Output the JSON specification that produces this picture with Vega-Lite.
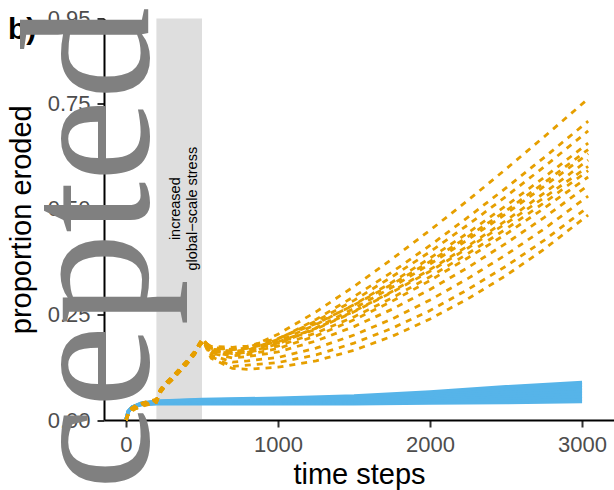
{
  "$schema": "https://vega.github.io/schema/vega-lite/v6.json",
  "width": 510,
  "height": 401.5,
  "autosize": {"type": "none"},
  "padding": {"left": 104, "top": 18.5, "right": 0, "bottom": 70},
  "background": "white",
  "config": {
    "view": {"stroke": null},
    "font": "Liberation Sans",
    "axis": {"zindex": 0, "grid": false, "domainColor": "black", "domainWidth": 2, "tickColor": "#333333", "tickWidth": 2, "tickSize": 7, "labelFontSize": 22, "labelColor": "#4d4d4d", "labelPadding": 7, "labelFont": "Liberation Sans", "labelFlush": false, "labelOverlap": false, "titleFont": "Liberation Sans", "titleFontSize": 29, "titleFontWeight": "normal", "titleColor": "black", "titleBaseline": "alphabetic"},
    "axisX": {"titleX": 255, "titleY": 63, "titleAlign": "center"},
    "axisY": {"titleAngle": 270, "titleAlign": "center", "titleX": -74, "titleY": 200.75}
  },
  "datasets": {
    "blue": [
      {"run": "b0", "t": 0, "v": 0}, {"run": "b0", "t": 15, "v": 0.02}, {"run": "b0", "t": 40, "v": 0.03}, {"run": "b0", "t": 100, "v": 0.0365}, {"run": "b0", "t": 200, "v": 0.0385}, {"run": "b0", "t": 500, "v": 0.0385}, {"run": "b0", "t": 1000, "v": 0.0385}, {"run": "b0", "t": 1500, "v": 0.0385}, {"run": "b0", "t": 2000, "v": 0.0405}, {"run": "b0", "t": 2500, "v": 0.0415}, {"run": "b0", "t": 3000, "v": 0.0435},
      {"run": "b1", "t": 0, "v": 0}, {"run": "b1", "t": 15, "v": 0.02}, {"run": "b1", "t": 40, "v": 0.03}, {"run": "b1", "t": 100, "v": 0.0369}, {"run": "b1", "t": 200, "v": 0.0394}, {"run": "b1", "t": 500, "v": 0.0399}, {"run": "b1", "t": 1000, "v": 0.0404}, {"run": "b1", "t": 1500, "v": 0.0411}, {"run": "b1", "t": 2000, "v": 0.0442}, {"run": "b1", "t": 2500, "v": 0.0468}, {"run": "b1", "t": 3000, "v": 0.0499},
      {"run": "b2", "t": 0, "v": 0}, {"run": "b2", "t": 15, "v": 0.02}, {"run": "b2", "t": 40, "v": 0.03}, {"run": "b2", "t": 100, "v": 0.0374}, {"run": "b2", "t": 200, "v": 0.0402}, {"run": "b2", "t": 500, "v": 0.0414}, {"run": "b2", "t": 1000, "v": 0.0422}, {"run": "b2", "t": 1500, "v": 0.0436}, {"run": "b2", "t": 2000, "v": 0.0479}, {"run": "b2", "t": 2500, "v": 0.0521}, {"run": "b2", "t": 3000, "v": 0.0564},
      {"run": "b3", "t": 0, "v": 0}, {"run": "b3", "t": 15, "v": 0.02}, {"run": "b3", "t": 40, "v": 0.03}, {"run": "b3", "t": 100, "v": 0.0378}, {"run": "b3", "t": 200, "v": 0.0411}, {"run": "b3", "t": 500, "v": 0.0428}, {"run": "b3", "t": 1000, "v": 0.0441}, {"run": "b3", "t": 1500, "v": 0.0462}, {"run": "b3", "t": 2000, "v": 0.0517}, {"run": "b3", "t": 2500, "v": 0.0574}, {"run": "b3", "t": 3000, "v": 0.0628},
      {"run": "b4", "t": 0, "v": 0}, {"run": "b4", "t": 15, "v": 0.02}, {"run": "b4", "t": 40, "v": 0.03}, {"run": "b4", "t": 100, "v": 0.0382}, {"run": "b4", "t": 200, "v": 0.0419}, {"run": "b4", "t": 500, "v": 0.0442}, {"run": "b4", "t": 1000, "v": 0.0459}, {"run": "b4", "t": 1500, "v": 0.0488}, {"run": "b4", "t": 2000, "v": 0.0554}, {"run": "b4", "t": 2500, "v": 0.0626}, {"run": "b4", "t": 3000, "v": 0.0692},
      {"run": "b5", "t": 0, "v": 0}, {"run": "b5", "t": 15, "v": 0.02}, {"run": "b5", "t": 40, "v": 0.03}, {"run": "b5", "t": 100, "v": 0.0386}, {"run": "b5", "t": 200, "v": 0.0428}, {"run": "b5", "t": 500, "v": 0.0456}, {"run": "b5", "t": 1000, "v": 0.0478}, {"run": "b5", "t": 1500, "v": 0.0514}, {"run": "b5", "t": 2000, "v": 0.0591}, {"run": "b5", "t": 2500, "v": 0.0679}, {"run": "b5", "t": 3000, "v": 0.0756},
      {"run": "b6", "t": 0, "v": 0}, {"run": "b6", "t": 15, "v": 0.02}, {"run": "b6", "t": 40, "v": 0.03}, {"run": "b6", "t": 100, "v": 0.0391}, {"run": "b6", "t": 200, "v": 0.0436}, {"run": "b6", "t": 500, "v": 0.0471}, {"run": "b6", "t": 1000, "v": 0.0496}, {"run": "b6", "t": 1500, "v": 0.0539}, {"run": "b6", "t": 2000, "v": 0.0628}, {"run": "b6", "t": 2500, "v": 0.0732}, {"run": "b6", "t": 3000, "v": 0.0821},
      {"run": "b7", "t": 0, "v": 0}, {"run": "b7", "t": 15, "v": 0.02}, {"run": "b7", "t": 40, "v": 0.03}, {"run": "b7", "t": 100, "v": 0.0395}, {"run": "b7", "t": 200, "v": 0.0445}, {"run": "b7", "t": 500, "v": 0.0485}, {"run": "b7", "t": 1000, "v": 0.0515}, {"run": "b7", "t": 1500, "v": 0.0565}, {"run": "b7", "t": 2000, "v": 0.0665}, {"run": "b7", "t": 2500, "v": 0.0785}, {"run": "b7", "t": 3000, "v": 0.0885}
    ],
    "orange": [
      {"run": "o1", "t": 0, "v": 0}, {"run": "o1", "t": 20, "v": 0.02}, {"run": "o1", "t": 60, "v": 0.03}, {"run": "o1", "t": 120, "v": 0.038}, {"run": "o1", "t": 200, "v": 0.045}, {"run": "o1", "t": 225, "v": 0.068}, {"run": "o1", "t": 250, "v": 0.08}, {"run": "o1", "t": 310, "v": 0.101}, {"run": "o1", "t": 400, "v": 0.136}, {"run": "o1", "t": 450, "v": 0.158}, {"run": "o1", "t": 490, "v": 0.182}, {"run": "o1", "t": 507, "v": 0.188}, {"run": "o1", "t": 560, "v": 0.172}, {"run": "o1", "t": 700, "v": 0.167}, {"run": "o1", "t": 800, "v": 0.17}, {"run": "o1", "t": 1000, "v": 0.203}, {"run": "o1", "t": 1250, "v": 0.256}, {"run": "o1", "t": 1500, "v": 0.316}, {"run": "o1", "t": 1750, "v": 0.381}, {"run": "o1", "t": 2000, "v": 0.449}, {"run": "o1", "t": 2250, "v": 0.52}, {"run": "o1", "t": 2500, "v": 0.594}, {"run": "o1", "t": 2750, "v": 0.67}, {"run": "o1", "t": 3040, "v": 0.76},
      {"run": "o2", "t": 0, "v": 0}, {"run": "o2", "t": 20, "v": 0.023}, {"run": "o2", "t": 60, "v": 0.033}, {"run": "o2", "t": 120, "v": 0.041}, {"run": "o2", "t": 200, "v": 0.048}, {"run": "o2", "t": 225, "v": 0.071}, {"run": "o2", "t": 250, "v": 0.083}, {"run": "o2", "t": 310, "v": 0.104}, {"run": "o2", "t": 400, "v": 0.139}, {"run": "o2", "t": 450, "v": 0.161}, {"run": "o2", "t": 490, "v": 0.185}, {"run": "o2", "t": 507, "v": 0.191}, {"run": "o2", "t": 560, "v": 0.168}, {"run": "o2", "t": 700, "v": 0.162}, {"run": "o2", "t": 800, "v": 0.165}, {"run": "o2", "t": 1000, "v": 0.191}, {"run": "o2", "t": 1250, "v": 0.238}, {"run": "o2", "t": 1500, "v": 0.292}, {"run": "o2", "t": 1750, "v": 0.35}, {"run": "o2", "t": 2000, "v": 0.413}, {"run": "o2", "t": 2250, "v": 0.48}, {"run": "o2", "t": 2500, "v": 0.549}, {"run": "o2", "t": 2750, "v": 0.621}, {"run": "o2", "t": 3040, "v": 0.707},
      {"run": "o3", "t": 0, "v": 0}, {"run": "o3", "t": 20, "v": 0.017}, {"run": "o3", "t": 60, "v": 0.027}, {"run": "o3", "t": 120, "v": 0.035}, {"run": "o3", "t": 200, "v": 0.042}, {"run": "o3", "t": 225, "v": 0.065}, {"run": "o3", "t": 250, "v": 0.077}, {"run": "o3", "t": 310, "v": 0.098}, {"run": "o3", "t": 400, "v": 0.133}, {"run": "o3", "t": 450, "v": 0.155}, {"run": "o3", "t": 490, "v": 0.179}, {"run": "o3", "t": 507, "v": 0.185}, {"run": "o3", "t": 560, "v": 0.17}, {"run": "o3", "t": 700, "v": 0.167}, {"run": "o3", "t": 800, "v": 0.17}, {"run": "o3", "t": 1000, "v": 0.192}, {"run": "o3", "t": 1250, "v": 0.234}, {"run": "o3", "t": 1500, "v": 0.283}, {"run": "o3", "t": 1750, "v": 0.339}, {"run": "o3", "t": 2000, "v": 0.398}, {"run": "o3", "t": 2250, "v": 0.462}, {"run": "o3", "t": 2500, "v": 0.529}, {"run": "o3", "t": 2750, "v": 0.599}, {"run": "o3", "t": 3040, "v": 0.684},
      {"run": "o4", "t": 0, "v": 0}, {"run": "o4", "t": 20, "v": 0.022}, {"run": "o4", "t": 60, "v": 0.032}, {"run": "o4", "t": 120, "v": 0.04}, {"run": "o4", "t": 200, "v": 0.047}, {"run": "o4", "t": 225, "v": 0.07}, {"run": "o4", "t": 250, "v": 0.082}, {"run": "o4", "t": 310, "v": 0.103}, {"run": "o4", "t": 400, "v": 0.138}, {"run": "o4", "t": 450, "v": 0.16}, {"run": "o4", "t": 490, "v": 0.184}, {"run": "o4", "t": 507, "v": 0.19}, {"run": "o4", "t": 560, "v": 0.166}, {"run": "o4", "t": 700, "v": 0.162}, {"run": "o4", "t": 800, "v": 0.165}, {"run": "o4", "t": 1000, "v": 0.186}, {"run": "o4", "t": 1250, "v": 0.226}, {"run": "o4", "t": 1500, "v": 0.273}, {"run": "o4", "t": 1750, "v": 0.326}, {"run": "o4", "t": 2000, "v": 0.383}, {"run": "o4", "t": 2250, "v": 0.443}, {"run": "o4", "t": 2500, "v": 0.507}, {"run": "o4", "t": 2750, "v": 0.574}, {"run": "o4", "t": 3040, "v": 0.655},
      {"run": "o5", "t": 0, "v": 0}, {"run": "o5", "t": 20, "v": 0.018}, {"run": "o5", "t": 60, "v": 0.028}, {"run": "o5", "t": 120, "v": 0.036}, {"run": "o5", "t": 200, "v": 0.043}, {"run": "o5", "t": 225, "v": 0.066}, {"run": "o5", "t": 250, "v": 0.078}, {"run": "o5", "t": 310, "v": 0.099}, {"run": "o5", "t": 400, "v": 0.134}, {"run": "o5", "t": 450, "v": 0.156}, {"run": "o5", "t": 490, "v": 0.18}, {"run": "o5", "t": 507, "v": 0.186}, {"run": "o5", "t": 560, "v": 0.174}, {"run": "o5", "t": 700, "v": 0.172}, {"run": "o5", "t": 800, "v": 0.175}, {"run": "o5", "t": 1000, "v": 0.193}, {"run": "o5", "t": 1250, "v": 0.228}, {"run": "o5", "t": 1500, "v": 0.272}, {"run": "o5", "t": 1750, "v": 0.321}, {"run": "o5", "t": 2000, "v": 0.375}, {"run": "o5", "t": 2250, "v": 0.434}, {"run": "o5", "t": 2500, "v": 0.495}, {"run": "o5", "t": 2750, "v": 0.561}, {"run": "o5", "t": 3040, "v": 0.64},
      {"run": "o6", "t": 0, "v": 0}, {"run": "o6", "t": 20, "v": 0.024}, {"run": "o6", "t": 60, "v": 0.034}, {"run": "o6", "t": 120, "v": 0.042}, {"run": "o6", "t": 200, "v": 0.049}, {"run": "o6", "t": 225, "v": 0.072}, {"run": "o6", "t": 250, "v": 0.084}, {"run": "o6", "t": 310, "v": 0.105}, {"run": "o6", "t": 400, "v": 0.14}, {"run": "o6", "t": 450, "v": 0.162}, {"run": "o6", "t": 490, "v": 0.186}, {"run": "o6", "t": 507, "v": 0.192}, {"run": "o6", "t": 560, "v": 0.164}, {"run": "o6", "t": 700, "v": 0.157}, {"run": "o6", "t": 800, "v": 0.16}, {"run": "o6", "t": 1000, "v": 0.18}, {"run": "o6", "t": 1250, "v": 0.218}, {"run": "o6", "t": 1500, "v": 0.264}, {"run": "o6", "t": 1750, "v": 0.314}, {"run": "o6", "t": 2000, "v": 0.369}, {"run": "o6", "t": 2250, "v": 0.427}, {"run": "o6", "t": 2500, "v": 0.488}, {"run": "o6", "t": 2750, "v": 0.553}, {"run": "o6", "t": 3040, "v": 0.63},
      {"run": "o7", "t": 0, "v": 0}, {"run": "o7", "t": 20, "v": 0.016}, {"run": "o7", "t": 60, "v": 0.026}, {"run": "o7", "t": 120, "v": 0.034}, {"run": "o7", "t": 200, "v": 0.041}, {"run": "o7", "t": 225, "v": 0.064}, {"run": "o7", "t": 250, "v": 0.076}, {"run": "o7", "t": 310, "v": 0.097}, {"run": "o7", "t": 400, "v": 0.132}, {"run": "o7", "t": 450, "v": 0.154}, {"run": "o7", "t": 490, "v": 0.178}, {"run": "o7", "t": 507, "v": 0.184}, {"run": "o7", "t": 560, "v": 0.17}, {"run": "o7", "t": 700, "v": 0.167}, {"run": "o7", "t": 800, "v": 0.17}, {"run": "o7", "t": 1000, "v": 0.185}, {"run": "o7", "t": 1250, "v": 0.217}, {"run": "o7", "t": 1500, "v": 0.257}, {"run": "o7", "t": 1750, "v": 0.304}, {"run": "o7", "t": 2000, "v": 0.356}, {"run": "o7", "t": 2250, "v": 0.412}, {"run": "o7", "t": 2500, "v": 0.472}, {"run": "o7", "t": 2750, "v": 0.537}, {"run": "o7", "t": 3040, "v": 0.615},
      {"run": "o8", "t": 0, "v": 0}, {"run": "o8", "t": 20, "v": 0.021}, {"run": "o8", "t": 60, "v": 0.031}, {"run": "o8", "t": 120, "v": 0.039}, {"run": "o8", "t": 200, "v": 0.046}, {"run": "o8", "t": 225, "v": 0.069}, {"run": "o8", "t": 250, "v": 0.081}, {"run": "o8", "t": 310, "v": 0.102}, {"run": "o8", "t": 400, "v": 0.137}, {"run": "o8", "t": 450, "v": 0.159}, {"run": "o8", "t": 490, "v": 0.183}, {"run": "o8", "t": 507, "v": 0.189}, {"run": "o8", "t": 560, "v": 0.167}, {"run": "o8", "t": 700, "v": 0.162}, {"run": "o8", "t": 800, "v": 0.165}, {"run": "o8", "t": 1000, "v": 0.182}, {"run": "o8", "t": 1250, "v": 0.215}, {"run": "o8", "t": 1500, "v": 0.256}, {"run": "o8", "t": 1750, "v": 0.302}, {"run": "o8", "t": 2000, "v": 0.352}, {"run": "o8", "t": 2250, "v": 0.407}, {"run": "o8", "t": 2500, "v": 0.465}, {"run": "o8", "t": 2750, "v": 0.526}, {"run": "o8", "t": 3040, "v": 0.6},
      {"run": "o9", "t": 0, "v": 0}, {"run": "o9", "t": 20, "v": 0.019}, {"run": "o9", "t": 60, "v": 0.029}, {"run": "o9", "t": 120, "v": 0.037}, {"run": "o9", "t": 200, "v": 0.044}, {"run": "o9", "t": 225, "v": 0.067}, {"run": "o9", "t": 250, "v": 0.079}, {"run": "o9", "t": 310, "v": 0.1}, {"run": "o9", "t": 400, "v": 0.135}, {"run": "o9", "t": 450, "v": 0.157}, {"run": "o9", "t": 490, "v": 0.181}, {"run": "o9", "t": 507, "v": 0.187}, {"run": "o9", "t": 560, "v": 0.163}, {"run": "o9", "t": 700, "v": 0.157}, {"run": "o9", "t": 800, "v": 0.16}, {"run": "o9", "t": 1000, "v": 0.175}, {"run": "o9", "t": 1250, "v": 0.206}, {"run": "o9", "t": 1500, "v": 0.244}, {"run": "o9", "t": 1750, "v": 0.289}, {"run": "o9", "t": 2000, "v": 0.339}, {"run": "o9", "t": 2250, "v": 0.394}, {"run": "o9", "t": 2500, "v": 0.452}, {"run": "o9", "t": 2750, "v": 0.514}, {"run": "o9", "t": 3040, "v": 0.59},
      {"run": "o10", "t": 0, "v": 0}, {"run": "o10", "t": 20, "v": 0.023}, {"run": "o10", "t": 60, "v": 0.033}, {"run": "o10", "t": 120, "v": 0.041}, {"run": "o10", "t": 200, "v": 0.048}, {"run": "o10", "t": 225, "v": 0.071}, {"run": "o10", "t": 250, "v": 0.083}, {"run": "o10", "t": 310, "v": 0.104}, {"run": "o10", "t": 400, "v": 0.139}, {"run": "o10", "t": 450, "v": 0.161}, {"run": "o10", "t": 490, "v": 0.185}, {"run": "o10", "t": 507, "v": 0.191}, {"run": "o10", "t": 560, "v": 0.16}, {"run": "o10", "t": 700, "v": 0.152}, {"run": "o10", "t": 800, "v": 0.155}, {"run": "o10", "t": 1000, "v": 0.169}, {"run": "o10", "t": 1250, "v": 0.199}, {"run": "o10", "t": 1500, "v": 0.237}, {"run": "o10", "t": 1750, "v": 0.281}, {"run": "o10", "t": 2000, "v": 0.33}, {"run": "o10", "t": 2250, "v": 0.384}, {"run": "o10", "t": 2500, "v": 0.44}, {"run": "o10", "t": 2750, "v": 0.501}, {"run": "o10", "t": 3040, "v": 0.575},
      {"run": "o11", "t": 0, "v": 0}, {"run": "o11", "t": 20, "v": 0.017}, {"run": "o11", "t": 60, "v": 0.027}, {"run": "o11", "t": 120, "v": 0.035}, {"run": "o11", "t": 200, "v": 0.042}, {"run": "o11", "t": 225, "v": 0.065}, {"run": "o11", "t": 250, "v": 0.077}, {"run": "o11", "t": 310, "v": 0.098}, {"run": "o11", "t": 400, "v": 0.133}, {"run": "o11", "t": 450, "v": 0.155}, {"run": "o11", "t": 490, "v": 0.179}, {"run": "o11", "t": 507, "v": 0.185}, {"run": "o11", "t": 560, "v": 0.158}, {"run": "o11", "t": 700, "v": 0.147}, {"run": "o11", "t": 800, "v": 0.15}, {"run": "o11", "t": 1000, "v": 0.161}, {"run": "o11", "t": 1250, "v": 0.187}, {"run": "o11", "t": 1500, "v": 0.221}, {"run": "o11", "t": 1750, "v": 0.262}, {"run": "o11", "t": 2000, "v": 0.309}, {"run": "o11", "t": 2250, "v": 0.361}, {"run": "o11", "t": 2500, "v": 0.418}, {"run": "o11", "t": 2750, "v": 0.479}, {"run": "o11", "t": 3040, "v": 0.555},
      {"run": "o12", "t": 0, "v": 0}, {"run": "o12", "t": 20, "v": 0.022}, {"run": "o12", "t": 60, "v": 0.032}, {"run": "o12", "t": 120, "v": 0.04}, {"run": "o12", "t": 200, "v": 0.047}, {"run": "o12", "t": 225, "v": 0.07}, {"run": "o12", "t": 250, "v": 0.082}, {"run": "o12", "t": 310, "v": 0.103}, {"run": "o12", "t": 400, "v": 0.138}, {"run": "o12", "t": 450, "v": 0.16}, {"run": "o12", "t": 490, "v": 0.184}, {"run": "o12", "t": 507, "v": 0.19}, {"run": "o12", "t": 560, "v": 0.154}, {"run": "o12", "t": 700, "v": 0.137}, {"run": "o12", "t": 800, "v": 0.14}, {"run": "o12", "t": 1000, "v": 0.148}, {"run": "o12", "t": 1250, "v": 0.17}, {"run": "o12", "t": 1500, "v": 0.201}, {"run": "o12", "t": 1750, "v": 0.239}, {"run": "o12", "t": 2000, "v": 0.284}, {"run": "o12", "t": 2250, "v": 0.335}, {"run": "o12", "t": 2500, "v": 0.391}, {"run": "o12", "t": 2750, "v": 0.452}, {"run": "o12", "t": 3040, "v": 0.53},
      {"run": "o13", "t": 0, "v": 0}, {"run": "o13", "t": 20, "v": 0.018}, {"run": "o13", "t": 60, "v": 0.028}, {"run": "o13", "t": 120, "v": 0.036}, {"run": "o13", "t": 200, "v": 0.043}, {"run": "o13", "t": 225, "v": 0.066}, {"run": "o13", "t": 250, "v": 0.078}, {"run": "o13", "t": 310, "v": 0.099}, {"run": "o13", "t": 400, "v": 0.134}, {"run": "o13", "t": 450, "v": 0.156}, {"run": "o13", "t": 490, "v": 0.18}, {"run": "o13", "t": 507, "v": 0.186}, {"run": "o13", "t": 560, "v": 0.15}, {"run": "o13", "t": 700, "v": 0.127}, {"run": "o13", "t": 800, "v": 0.13}, {"run": "o13", "t": 1000, "v": 0.136}, {"run": "o13", "t": 1250, "v": 0.154}, {"run": "o13", "t": 1500, "v": 0.182}, {"run": "o13", "t": 1750, "v": 0.217}, {"run": "o13", "t": 2000, "v": 0.259}, {"run": "o13", "t": 2250, "v": 0.309}, {"run": "o13", "t": 2500, "v": 0.364}, {"run": "o13", "t": 2750, "v": 0.425}, {"run": "o13", "t": 3040, "v": 0.504},
      {"run": "o14", "t": 0, "v": 0}, {"run": "o14", "t": 20, "v": 0.02}, {"run": "o14", "t": 60, "v": 0.03}, {"run": "o14", "t": 120, "v": 0.038}, {"run": "o14", "t": 200, "v": 0.045}, {"run": "o14", "t": 225, "v": 0.068}, {"run": "o14", "t": 250, "v": 0.08}, {"run": "o14", "t": 310, "v": 0.101}, {"run": "o14", "t": 400, "v": 0.136}, {"run": "o14", "t": 450, "v": 0.158}, {"run": "o14", "t": 490, "v": 0.182}, {"run": "o14", "t": 507, "v": 0.188}, {"run": "o14", "t": 560, "v": 0.146}, {"run": "o14", "t": 700, "v": 0.122}, {"run": "o14", "t": 800, "v": 0.12}, {"run": "o14", "t": 1000, "v": 0.125}, {"run": "o14", "t": 1250, "v": 0.14}, {"run": "o14", "t": 1500, "v": 0.165}, {"run": "o14", "t": 1750, "v": 0.198}, {"run": "o14", "t": 2000, "v": 0.239}, {"run": "o14", "t": 2250, "v": 0.287}, {"run": "o14", "t": 2500, "v": 0.342}, {"run": "o14", "t": 2750, "v": 0.404}, {"run": "o14", "t": 3040, "v": 0.485}
    ]
  },
  "layer": [
    {
      "data": {"values": [{"t": 200, "t2": 500}]},
      "mark": {"type": "rect", "color": "#dedede"},
      "encoding": {
        "x": {"field": "t", "type": "quantitative", "scale": {"domain": [-144.7, 3210], "nice": false, "zero": false}, "axis": {"title": "time steps", "values": [0, 1000, 2000, 3000], "format": "d", "zindex": 0}},
        "x2": {"field": "t2"},
        "y": {"datum": 0.95, "type": "quantitative", "scale": {"domain": [0, 0.95], "nice": false, "zero": false}, "axis": {"title": "proportion eroded", "values": [0, 0.25, 0.5, 0.75, 0.95], "format": ".2f", "zindex": 0}},
        "y2": {"datum": 0.0025}
      }
    },
    {
      "data": {"values": [{"label": "increased\nglobal−scale stress"}]},
      "mark": {"type": "text", "angle": 270, "align": "center", "baseline": "middle", "lineBreak": "\n", "lineHeight": 17, "fontSize": 14.5, "font": "Liberation Sans", "color": "black"},
      "encoding": {
        "x": {"datum": 327, "type": "quantitative", "axis": {"title": "time steps", "values": [0, 1000, 2000, 3000], "format": "d", "zindex": 0}},
        "y": {"datum": 0.5, "type": "quantitative", "axis": {"title": "proportion eroded", "values": [0, 0.25, 0.5, 0.75, 0.95], "format": ".2f", "zindex": 0}},
        "text": {"field": "label"}
      }
    },
    {
      "data": {"name": "blue"},
      "mark": {"type": "line", "color": "#56B4E9", "strokeWidth": 3.5, "strokeCap": "butt"},
      "encoding": {
        "x": {"field": "t", "type": "quantitative", "axis": {"title": "time steps", "values": [0, 1000, 2000, 3000], "format": "d", "zindex": 0}},
        "y": {"field": "v", "type": "quantitative", "axis": {"title": "proportion eroded", "values": [0, 0.25, 0.5, 0.75, 0.95], "format": ".2f", "zindex": 0}},
        "detail": {"field": "run"}
      }
    },
    {
      "data": {"name": "orange"},
      "mark": {"type": "line", "color": "#E69F00", "strokeWidth": 2.8, "strokeDash": [6, 6], "strokeCap": "butt"},
      "encoding": {
        "x": {"field": "t", "type": "quantitative", "axis": {"title": "time steps", "values": [0, 1000, 2000, 3000], "format": "d", "zindex": 0}},
        "y": {"field": "v", "type": "quantitative", "axis": {"title": "proportion eroded", "values": [0, 0.25, 0.5, 0.75, 0.95], "format": ".2f", "zindex": 0}},
        "detail": {"field": "run"}
      }
    },
    {
      "data": {"values": [{"label": "b)"}]},
      "mark": {"type": "text", "align": "left", "baseline": "alphabetic", "fontSize": 30, "fontWeight": "bold", "font": "Liberation Sans", "color": "black"},
      "encoding": {
        "x": {"datum": -776, "type": "quantitative", "axis": {"title": "time steps", "values": [0, 1000, 2000, 3000], "format": "d", "zindex": 0}},
        "y": {"datum": 0.9016, "type": "quantitative", "axis": {"title": "proportion eroded", "values": [0, 0.25, 0.5, 0.75, 0.95], "format": ".2f", "zindex": 0}},
        "text": {"field": "label"}
      }
    },
    {
      "data": {"values": [{"label": "Accepted"}]},
      "mark": {"type": "text", "angle": 270, "align": "right", "baseline": "alphabetic", "fontSize": 185, "font": "Liberation Serif", "color": "#808080"},
      "encoding": {
        "x": {"datum": 144.7, "type": "quantitative", "axis": {"title": "time steps", "values": [0, 1000, 2000, 3000], "format": "d", "zindex": 0}},
        "y": {"datum": 0.977, "type": "quantitative", "axis": {"title": "proportion eroded", "values": [0, 0.25, 0.5, 0.75, 0.95], "format": ".2f", "zindex": 0}},
        "text": {"field": "label"}
      }
    }
  ]
}
